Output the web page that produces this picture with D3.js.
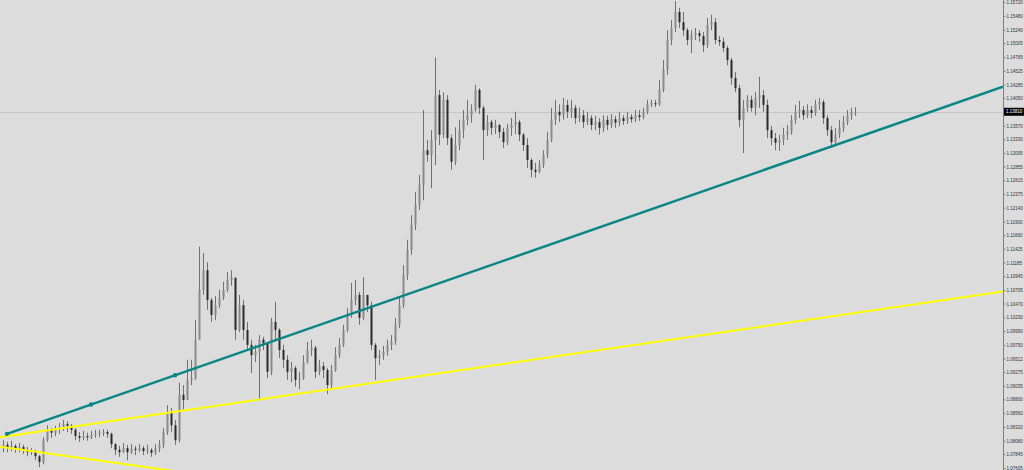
<!DOCTYPE html>
<html>
<head>
<meta charset="utf-8">
<script src="https://cdn.jsdelivr.net/npm/d3@7"></script>
<style>
  html, body { margin: 0; padding: 0; background: #dcdcdc; overflow: hidden; }
  .axis text { font-family: "Liberation Sans", Arial, sans-serif; font-size: 4.5px; fill: #333; }
  .axis path, .axis line { stroke: #808080; }
</style>
</head>
<body>
<svg id="chart" width="1024" height="470"></svg>
<script>
// candle data (open of each candle = previous close)
var firstOpen = 1.0795;
var closes = [
  1.0801, 1.0795, 1.0799, 1.0794, 1.0797, 1.0792, 1.0788, 1.0790, 1.0781, 1.0771,
  1.0809, 1.0827, 1.0822, 1.0827, 1.0830, 1.0837, 1.0834, 1.0827, 1.0816, 1.0813,
  1.0816, 1.0814, 1.0818, 1.0820, 1.0822, 1.0823, 1.0820, 1.0802, 1.0792, 1.0788,
  1.0795, 1.0788, 1.0794, 1.0792, 1.0795, 1.0790, 1.0792, 1.0787, 1.0795, 1.0801,
  1.0823, 1.0858, 1.0835, 1.0809, 1.0888, 1.0879, 1.0914, 1.0917, 1.0984, 1.1071,
  1.1105, 1.1053, 1.1027, 1.1044, 1.1057, 1.1071, 1.1088, 1.1092, 1.1001, 1.1044,
  1.1001, 1.0975, 1.0957, 1.0963, 1.0984, 1.0977, 1.0928, 1.1015, 1.1001, 1.0966,
  1.0949, 1.0928, 1.0935, 1.0914, 1.0917, 1.0945, 1.0966, 1.0970, 1.0928, 1.0938,
  1.0931, 1.0905, 1.0931, 1.0957, 1.0975, 1.1001, 1.1027, 1.1053, 1.1062, 1.1022,
  1.1062, 1.1044, 1.0975, 1.0952, 1.0957, 1.0963, 1.0975, 1.0980, 1.1010, 1.1044,
  1.1097, 1.1140, 1.1184, 1.1219, 1.1253, 1.1314, 1.1306, 1.1332, 1.1410, 1.1341,
  1.1402, 1.1335, 1.1294, 1.1323, 1.1349, 1.1367, 1.1375, 1.1384, 1.1419, 1.1388,
  1.1349, 1.1363, 1.1353, 1.1358, 1.1346, 1.1328, 1.1353, 1.1358, 1.1363, 1.1341,
  1.1323, 1.1297, 1.1280, 1.1276, 1.1288, 1.1306, 1.1332, 1.1367, 1.1381, 1.1375,
  1.1393, 1.1381, 1.1388, 1.1370, 1.1375, 1.1363, 1.1370, 1.1358, 1.1363, 1.1353,
  1.1367, 1.1358, 1.1368, 1.1362, 1.1370, 1.1365, 1.1372, 1.1368, 1.1375, 1.1372,
  1.1381, 1.1394, 1.1396, 1.1394, 1.1419, 1.1454, 1.1506, 1.1527, 1.1555, 1.1537,
  1.1523, 1.1506, 1.1515, 1.1518, 1.1513, 1.1497, 1.1532, 1.1537, 1.1506, 1.1503,
  1.1492, 1.1471, 1.1440, 1.1422, 1.1367, 1.1388, 1.1402, 1.1388, 1.1405, 1.1410,
  1.1393, 1.1349, 1.1335, 1.1327, 1.1332, 1.1341, 1.1346, 1.1367, 1.1381, 1.1384,
  1.1375, 1.1384, 1.1379, 1.1394, 1.1398, 1.1370, 1.1349, 1.1328, 1.1341, 1.1353,
  1.1363, 1.1375, 1.1381, 1.1381
];
var highs = [
  1.0809, 1.0806, 1.0808, 1.0802, 1.0804, 1.0801, 1.0797, 1.0795, 1.0792, 1.0783,
  1.0814, 1.0835, 1.0830, 1.0834, 1.0839, 1.0844, 1.0842, 1.0837, 1.0830, 1.0823,
  1.0825, 1.0822, 1.0825, 1.0827, 1.0827, 1.0828, 1.0827, 1.0822, 1.0804, 1.0799,
  1.0804, 1.0801, 1.0802, 1.0799, 1.0802, 1.0799, 1.0801, 1.0795, 1.0802, 1.0809,
  1.0830, 1.0870, 1.0865, 1.0844, 1.0909, 1.0905, 1.0949, 1.0949, 1.1018, 1.1146,
  1.1135, 1.1119, 1.1057, 1.1060, 1.1071, 1.1085, 1.1102, 1.1105, 1.1092, 1.1062,
  1.1053, 1.1015, 1.0984, 1.0975, 1.0992, 1.0989, 1.0980, 1.1022, 1.1050, 1.1004,
  1.0975, 1.0957, 1.0945, 1.0938, 1.0928, 1.0957, 1.0980, 1.0984, 1.0973, 1.0949,
  1.0945, 1.0935, 1.0940, 1.0971, 1.0987, 1.1010, 1.1039, 1.1083, 1.1088, 1.1067,
  1.1093, 1.1062, 1.1050, 1.0978, 1.0966, 1.0973, 1.0984, 1.0992, 1.1022, 1.1057,
  1.1114, 1.1158, 1.1201, 1.1241, 1.1271, 1.1384, 1.1332, 1.1349, 1.1476, 1.1419,
  1.1415, 1.1410, 1.1341, 1.1354, 1.1367, 1.1384, 1.1402, 1.1394, 1.1428, 1.1422,
  1.1391, 1.1375, 1.1367, 1.1367, 1.1360, 1.1353, 1.1360, 1.1370, 1.1381, 1.1367,
  1.1344, 1.1335, 1.1300, 1.1292, 1.1297, 1.1314, 1.1346, 1.1388, 1.1402, 1.1394,
  1.1405, 1.1402, 1.1402, 1.1393, 1.1388, 1.1384, 1.1381, 1.1375, 1.1374, 1.1370,
  1.1375, 1.1374, 1.1377, 1.1374, 1.1381, 1.1375, 1.1381, 1.1377, 1.1384, 1.1384,
  1.1388, 1.1402, 1.1402, 1.1402, 1.1436, 1.1471, 1.1523, 1.1541, 1.1574, 1.1562,
  1.1555, 1.1527, 1.1523, 1.1527, 1.1523, 1.1520, 1.1544, 1.1550, 1.1544, 1.1513,
  1.1510, 1.1496, 1.1475, 1.1450, 1.1428, 1.1402, 1.1410, 1.1409, 1.1415, 1.1442,
  1.1419, 1.1402, 1.1356, 1.1344, 1.1341, 1.1353, 1.1358, 1.1375, 1.1393, 1.1400,
  1.1391, 1.1394, 1.1391, 1.1402, 1.1405, 1.1402, 1.1375, 1.1356, 1.1353, 1.1367,
  1.1374, 1.1384, 1.1388, 1.1389
];
var lows = [
  1.0788, 1.0788, 1.0790, 1.0787, 1.0788, 1.0785, 1.0781, 1.0783, 1.0774, 1.0762,
  1.0767, 1.0806, 1.0813, 1.0816, 1.0820, 1.0825, 1.0823, 1.0820, 1.0809, 1.0806,
  1.0809, 1.0808, 1.0811, 1.0813, 1.0814, 1.0816, 1.0813, 1.0795, 1.0783, 1.0780,
  1.0787, 1.0774, 1.0785, 1.0783, 1.0788, 1.0783, 1.0785, 1.0780, 1.0783, 1.0788,
  1.0795, 1.0818, 1.0823, 1.0801, 1.0805, 1.0862, 1.0879, 1.0905, 1.0914, 1.0984,
  1.1062, 1.1036, 1.1015, 1.1018, 1.1039, 1.1053, 1.1067, 1.1078, 1.0984, 1.0997,
  1.0984, 1.0966, 1.0926, 1.0945, 1.0879, 1.0966, 1.0917, 1.0922, 1.0984, 1.0952,
  1.0935, 1.0914, 1.0910, 1.0902, 1.0898, 1.0914, 1.0942, 1.0956, 1.0917, 1.0922,
  1.0917, 1.0889, 1.0900, 1.0928, 1.0952, 1.0971, 1.0997, 1.1022, 1.1044, 1.1010,
  1.1018, 1.1032, 1.0966, 1.0914, 1.0940, 1.0949, 1.0956, 1.0966, 1.0975, 1.1004,
  1.1039, 1.1088, 1.1132, 1.1175, 1.1210, 1.1227, 1.1294, 1.1248, 1.1288, 1.1323,
  1.1335, 1.1323, 1.1280, 1.1288, 1.1314, 1.1335, 1.1358, 1.1362, 1.1381, 1.1377,
  1.1297, 1.1339, 1.1341, 1.1342, 1.1335, 1.1318, 1.1323, 1.1339, 1.1342, 1.1330,
  1.1313, 1.1283, 1.1267, 1.1266, 1.1274, 1.1283, 1.1300, 1.1328, 1.1358, 1.1363,
  1.1367, 1.1370, 1.1370, 1.1360, 1.1363, 1.1353, 1.1358, 1.1349, 1.1349, 1.1341,
  1.1346, 1.1349, 1.1353, 1.1353, 1.1356, 1.1358, 1.1360, 1.1362, 1.1363, 1.1365,
  1.1368, 1.1377, 1.1389, 1.1389, 1.1391, 1.1415, 1.1445, 1.1497, 1.1520, 1.1527,
  1.1513, 1.1497, 1.1483, 1.1506, 1.1503, 1.1485, 1.1492, 1.1523, 1.1499, 1.1496,
  1.1485, 1.1462, 1.1428, 1.1415, 1.1354, 1.1309, 1.1381, 1.1381, 1.1375, 1.1388,
  1.1381, 1.1335, 1.1323, 1.1314, 1.1313, 1.1323, 1.1332, 1.1341, 1.1360, 1.1370,
  1.1367, 1.1370, 1.1370, 1.1374, 1.1384, 1.1360, 1.1339, 1.1318, 1.1325, 1.1335,
  1.1346, 1.1358, 1.1367, 1.1374
];

// price scale labels on the right
var priceTicks = [
  "1.15720", "1.15480", "1.15240", "1.15005", "1.14765", "1.14525", "1.14285", "1.14050",
  "1.13570", "1.13330", "1.13095", "1.12855", "1.12615", "1.12375", "1.12140", "1.11900",
  "1.11660", "1.11425", "1.11185", "1.10945", "1.10705", "1.10470", "1.10230", "1.09990",
  "1.09750", "1.09512", "1.09275", "1.09035", "1.08800", "1.08560", "1.08320", "1.08080",
  "1.07845", "1.07605"
];
var lastPrice = 1.1381;

// trend lines: two anchor points each [bar index, price]
var tealLine = [[1, 1.0820], [43, 1.0922]];
var yellowLine1 = [[0, 1.0815], [250, 1.1068]];
var yellowLine2 = [[0, 1.0797], [40, 1.0758]];

var width = 1024, height = 470;
var plotRight = 1003;

var candles = closes.map(function (c, i) {
  return {
    i: i,
    open: i === 0 ? firstOpen : closes[i - 1],
    close: c,
    high: highs[i],
    low: lows[i]
  };
});

var x = d3.scaleLinear().domain([0, 250]).range([3, 1003]);
var y = d3.scaleLinear().domain([1.07570, 1.15757]).range([height, 0]);

var svg = d3.select("#chart");

svg.append("rect").attr("width", width).attr("height", height).attr("fill", "#dcdcdc");

svg.append("clipPath").attr("id", "plot")
  .append("rect").attr("width", plotRight).attr("height", height);

var plot = svg.append("g").attr("clip-path", "url(#plot)");

// current price line
plot.append("line")
  .attr("x1", 0).attr("x2", plotRight)
  .attr("y1", Math.round(y(lastPrice)) + 0.5).attr("y2", Math.round(y(lastPrice)) + 0.5)
  .attr("stroke", "#c6c6c6").attr("stroke-width", 1);

// candles
var cg = plot.append("g");
cg.selectAll("line.wick").data(candles).enter().append("line")
  .attr("class", "wick")
  .attr("x1", function (d) { return Math.round(x(d.i)) + 0.5; })
  .attr("x2", function (d) { return Math.round(x(d.i)) + 0.5; })
  .attr("y1", function (d) { return y(d.high); })
  .attr("y2", function (d) { return y(d.low); })
  .attr("stroke", "#707070").attr("stroke-width", 1);

cg.selectAll("rect.body").data(candles).enter().append("rect")
  .attr("class", "body")
  .attr("x", function (d) { return Math.round(x(d.i)) - 0.5; })
  .attr("width", 2)
  .attr("y", function (d) { return y(Math.max(d.open, d.close)); })
  .attr("height", function (d) { return Math.max(1, Math.abs(y(d.open) - y(d.close))); })
  .attr("fill", function (d) { return d.close >= d.open ? "#8a8a8a" : "#2a2a2a"; });

// trend lines, extended across the plot
function extend(pts) {
  var k = (pts[1][1] - pts[0][1]) / (pts[1][0] - pts[0][0]);
  var a = x.invert(0), b = x.invert(plotRight);
  return [[a, pts[0][1] + k * (a - pts[0][0])], [b, pts[0][1] + k * (b - pts[0][0])]];
}
var lineGen = d3.line().x(function (d) { return x(d[0]); }).y(function (d) { return y(d[1]); });

plot.append("path").datum(extend(yellowLine1))
  .attr("d", lineGen).attr("stroke", "#ffff00").attr("stroke-width", 2).attr("fill", "none");
plot.append("path").datum(extend(yellowLine2))
  .attr("d", lineGen).attr("stroke", "#ffff00").attr("stroke-width", 2).attr("fill", "none");

var tealRay = [tealLine[0], extend(tealLine)[1]];
plot.append("path").datum(tealRay)
  .attr("d", lineGen).attr("stroke", "#0b8686").attr("stroke-width", 2.5).attr("fill", "none");

var tealDots = [tealLine[0], [(tealLine[0][0] + tealLine[1][0]) / 2, (tealLine[0][1] + tealLine[1][1]) / 2], tealLine[1]];
plot.selectAll("circle.anchor").data(tealDots).enter().append("circle")
  .attr("class", "anchor")
  .attr("cx", function (d) { return x(d[0]); })
  .attr("cy", function (d) { return y(d[1]); })
  .attr("r", 2.2).attr("fill", "#0b8686");

// right price axis
var yAxis = d3.axisRight(y)
  .tickValues(priceTicks.map(Number))
  .tickFormat(function (d, i) { return priceTicks[i]; })
  .tickSize(2).tickPadding(1);
var ax = svg.append("g").attr("class", "axis").attr("transform", "translate(" + (plotRight + 0.5) + ",0)").call(yAxis);
ax.select(".domain").attr("d", "M0,0V" + height);
ax.selectAll(".tick text").attr("dy", "0.35em");

// current price tag
var tagY = y(lastPrice);
svg.append("rect").attr("x", plotRight + 1).attr("y", tagY - 4).attr("width", 20).attr("height", 8).attr("fill", "#000");
svg.append("text").attr("x", plotRight + 3).attr("y", tagY + 1.6)
  .attr("font-family", "Liberation Sans, Arial, sans-serif").attr("font-size", 4.5).attr("fill", "#fff")
  .text(d3.format(".5f")(lastPrice));
</script>
</body>
</html>
